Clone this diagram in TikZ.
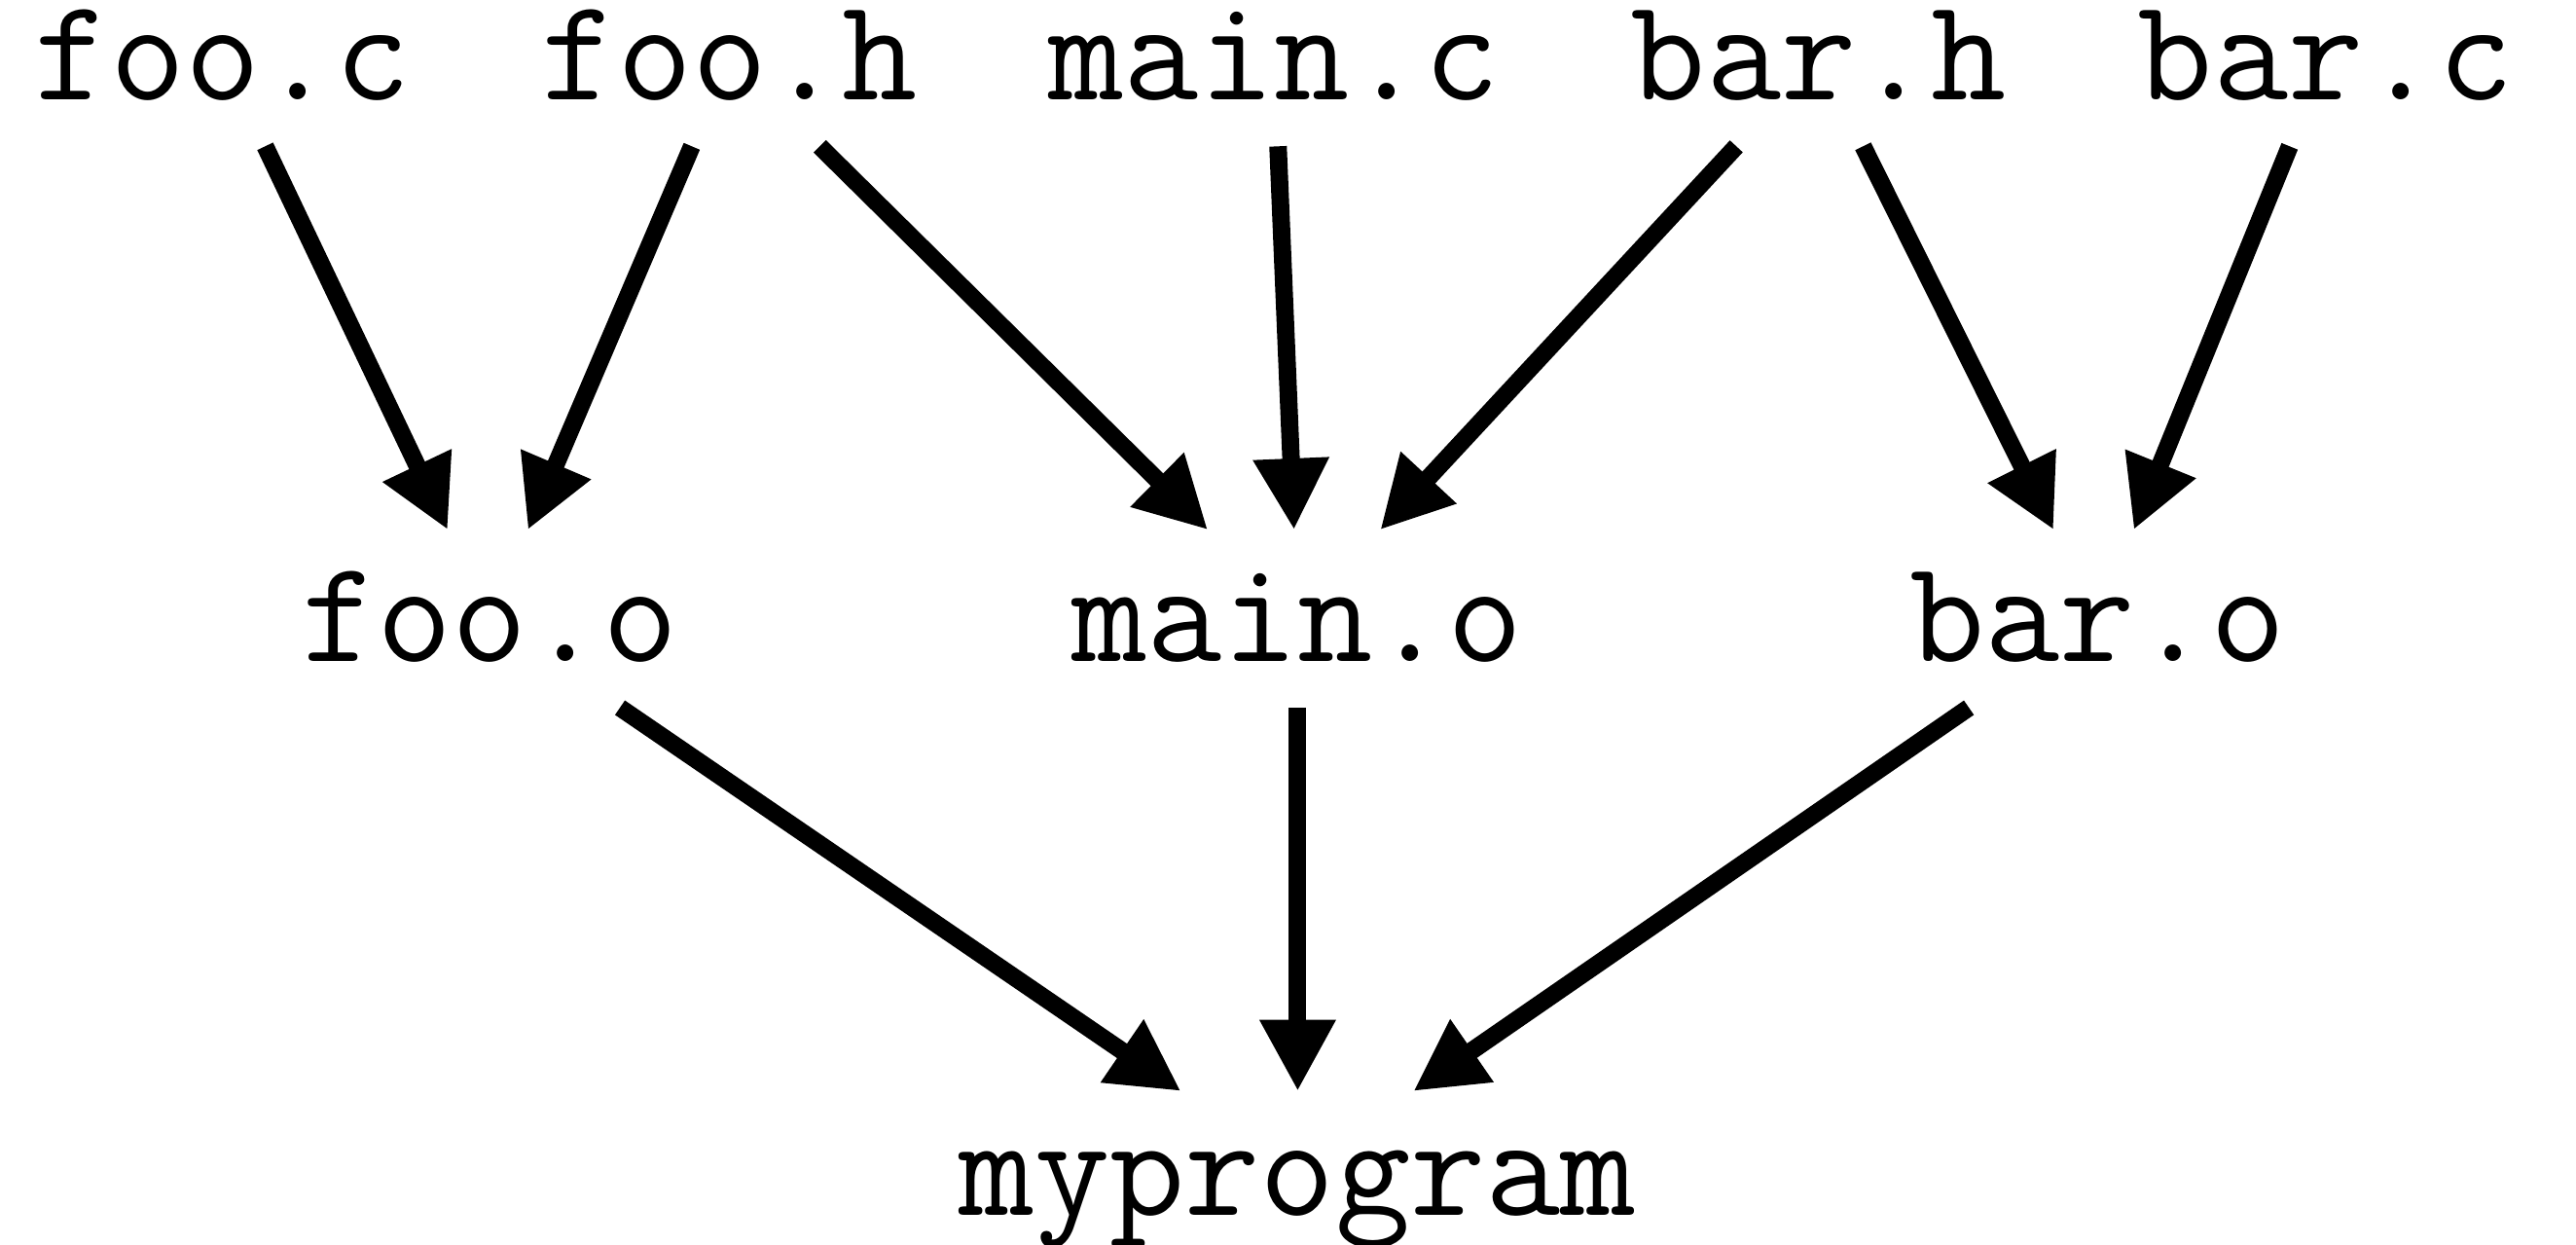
\documentclass[tikz,border=0pt]{standalone}
\usepackage{tikz}
\usetikzlibrary{calc,positioning,arrows.meta}

\begin{document}
\begin{tikzpicture}[
                node distance=59.1pt,
                every node/.append style={inner sep=0pt,minimum height=27pt,text height=13.2pt,text depth=0pt,font=\fontsize{22.5}{27}\selectfont\ttfamily},
                target/.style={minimum height=0pt,text height=19pt,text depth=5.2pt},
                dep/.style={line width=2.7pt,-{Triangle[length=11pt,width=11pt]}}
            ]
                \useasboundingbox (-34.35pt,8.85pt) rectangle (362.7pt,-183pt);
                % sources
                \node (fooc)                        {foo.c};
                \node (fooh) [right=19.8pt of fooc]  {foo.h};
                \node (mainc) [right=19.8pt of fooh] {main.c};
                \node (barh) [right=19.8pt of mainc] {bar.h};
                \node (barc) [right=19.8pt of barh]  {bar.c};
                % objects
                \node (fooo) [below=of $(fooc.south)!0.5!(fooh.south)$,xshift=2.1pt] {foo.o};
                \node (maino) [below=of mainc,xshift=3.6pt]                         {main.o};
                \node (baro) [below=of $(barh.south)!0.5!(barc.south)$,xshift=3.9pt] {bar.o};
                \node (prog) [target,below=of maino]                                {myprogram};
                \draw[dep] (fooc) -- (fooo);
                \draw[dep] (fooh) -- (fooo);
                \draw[dep] (fooh) -- (maino);
                \draw[dep] (mainc) -- (maino);
                \draw[dep] (barh) -- (maino);
                \draw[dep] (barh) -- (baro);
                \draw[dep] (barc) -- (baro);
                \draw[dep] (fooo) -- (prog);
                \draw[dep] (maino) -- (prog);
                \draw[dep] (baro) -- (prog);
            \end{tikzpicture}
\end{document}
